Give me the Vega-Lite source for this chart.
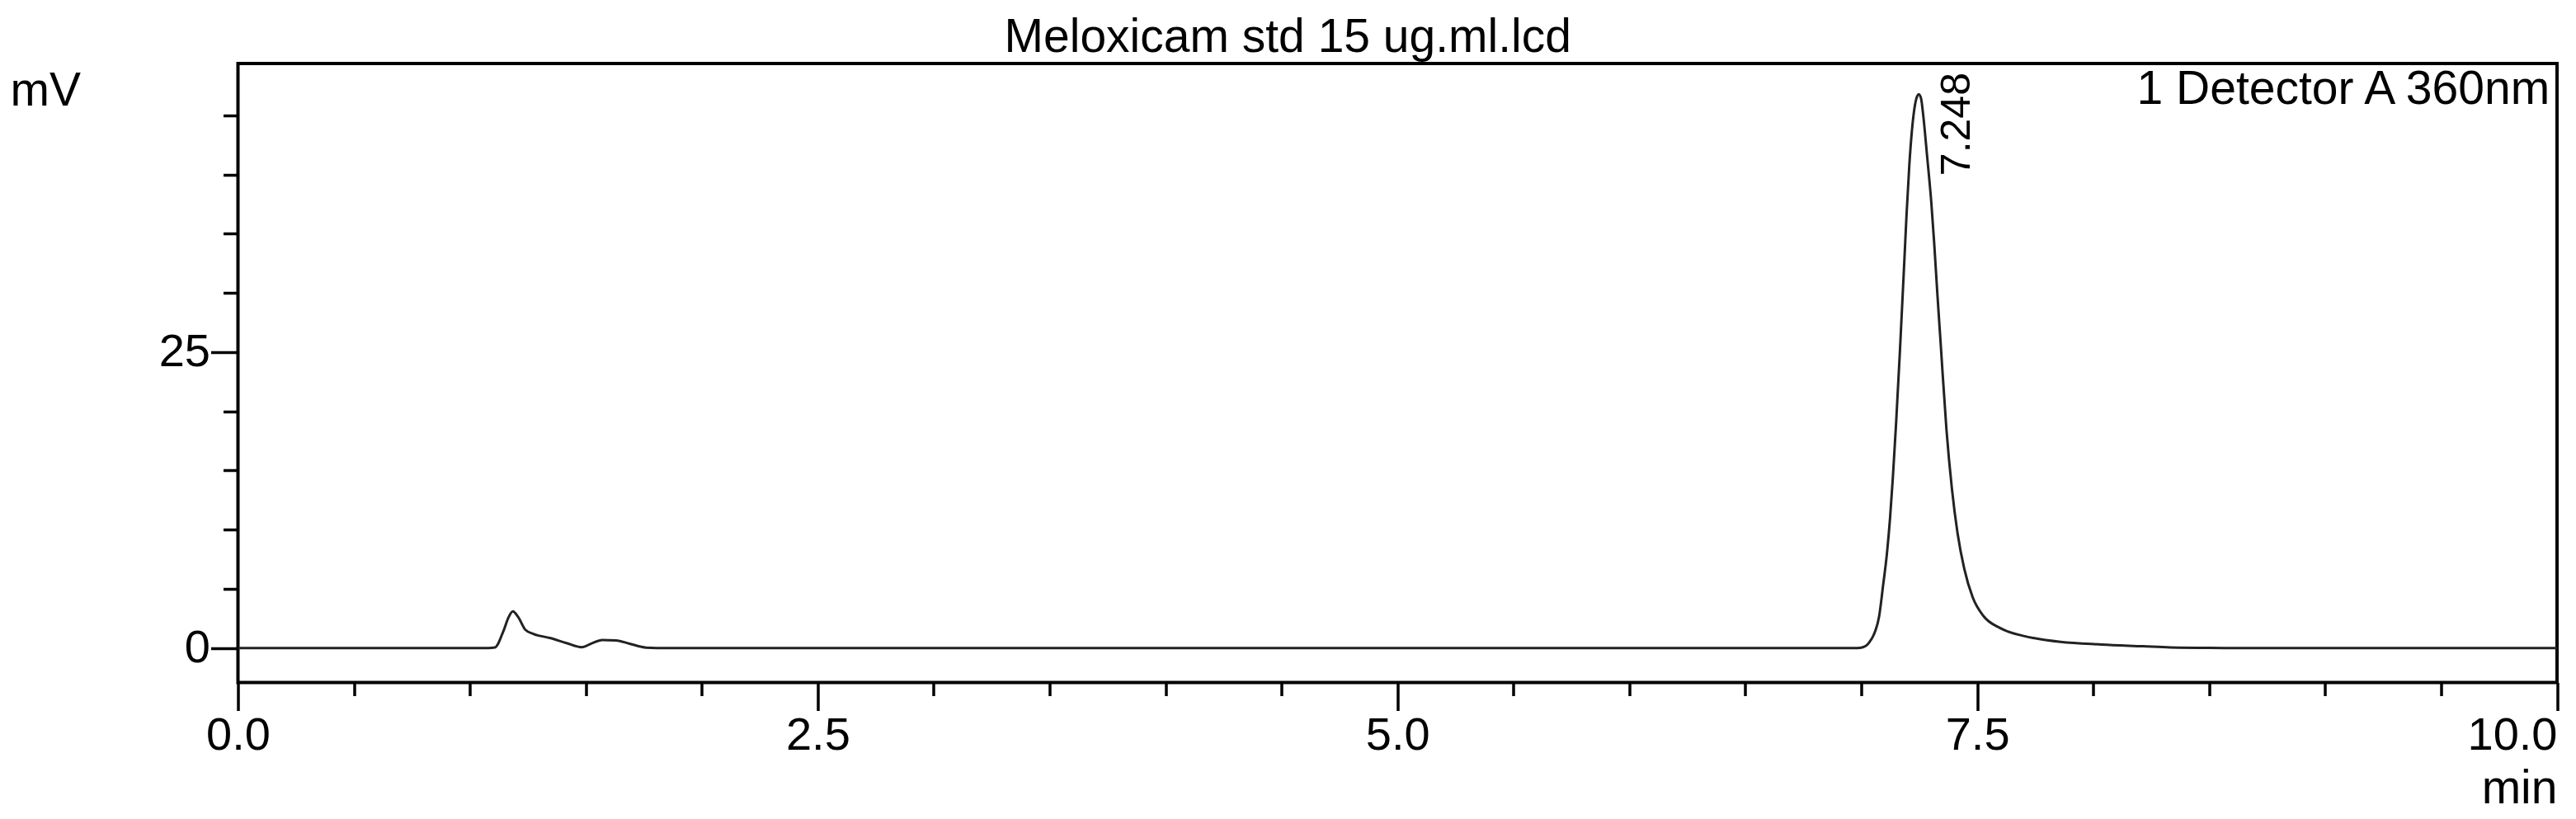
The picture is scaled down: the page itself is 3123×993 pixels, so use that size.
{
  "$schema": "https://vega.github.io/schema/vega-lite/v6.json",
  "autosize": {"type": "none"},
  "padding": {"left": 288.5, "top": 77, "right": 23, "bottom": 165.5},
  "width": 2811.5,
  "height": 750.5,
  "background": "white",
  "title": {
    "text": "Meloxicam std 15 ug.ml.lcd",
    "frame": "group",
    "anchor": "middle",
    "dx": -133,
    "dy": 55,
    "baseline": "alphabetic",
    "offset": 12,
    "font": "Liberation Sans",
    "fontSize": 57,
    "fontWeight": "normal",
    "color": "black"
  },
  "config": {
    "view": {"stroke": "black", "strokeWidth": 4},
    "axis": {
      "grid": false,
      "domain": false,
      "tickColor": "black",
      "tickWidth": 3.5,
      "labelColor": "black",
      "labelFont": "Liberation Sans",
      "labelFontSize": 56,
      "titleFont": "Liberation Sans",
      "titleFontSize": 57,
      "titleFontWeight": "normal",
      "titleColor": "black"
    },
    "legend": {
      "orient": "top-right",
      "offset": 3,
      "padding": 0,
      "title": null,
      "symbolSize": 0,
      "symbolStrokeWidth": 0,
      "symbolOpacity": 0,
      "labelOffset": 0,
      "labelFont": "Liberation Sans",
      "labelFontSize": 57,
      "labelColor": "black",
      "labelLimit": 2000
    }
  },
  "datasets": {
    "trace": [
      {"t": 0.0, "mV": 0.0},
      {"t": 0.4, "mV": 0.0},
      {"t": 0.8, "mV": 0.0},
      {"t": 1.0, "mV": 0.0},
      {"t": 1.08, "mV": 0.0},
      {"t": 1.108, "mV": 0.05},
      {"t": 1.144, "mV": 1.4},
      {"t": 1.167, "mV": 2.6},
      {"t": 1.185, "mV": 3.1},
      {"t": 1.209, "mV": 2.6},
      {"t": 1.239, "mV": 1.55},
      {"t": 1.274, "mV": 1.2},
      {"t": 1.345, "mV": 0.85},
      {"t": 1.417, "mV": 0.42},
      {"t": 1.482, "mV": 0.07},
      {"t": 1.523, "mV": 0.37},
      {"t": 1.571, "mV": 0.68},
      {"t": 1.63, "mV": 0.65},
      {"t": 1.689, "mV": 0.37},
      {"t": 1.76, "mV": 0.04},
      {"t": 1.85, "mV": 0.0},
      {"t": 2.0, "mV": 0.0},
      {"t": 3.0, "mV": 0.0},
      {"t": 4.0, "mV": 0.0},
      {"t": 5.0, "mV": 0.0},
      {"t": 6.0, "mV": 0.0},
      {"t": 6.6, "mV": 0.0},
      {"t": 6.9, "mV": 0.0},
      {"t": 6.97, "mV": 0.0},
      {"t": 6.995, "mV": 0.02},
      {"t": 7.017, "mV": 0.15},
      {"t": 7.035, "mV": 0.5},
      {"t": 7.053, "mV": 1.1},
      {"t": 7.077, "mV": 2.7},
      {"t": 7.094, "mV": 5.3},
      {"t": 7.11, "mV": 7.9},
      {"t": 7.124, "mV": 11.0},
      {"t": 7.136, "mV": 14.4},
      {"t": 7.15, "mV": 19.0},
      {"t": 7.166, "mV": 24.9},
      {"t": 7.174, "mV": 28.1},
      {"t": 7.186, "mV": 32.9},
      {"t": 7.195, "mV": 36.6},
      {"t": 7.207, "mV": 40.8},
      {"t": 7.225, "mV": 45.0},
      {"t": 7.237, "mV": 46.4},
      {"t": 7.248, "mV": 46.8},
      {"t": 7.258, "mV": 46.4},
      {"t": 7.266, "mV": 45.2},
      {"t": 7.284, "mV": 41.5},
      {"t": 7.302, "mV": 37.6},
      {"t": 7.314, "mV": 34.3},
      {"t": 7.328, "mV": 29.9},
      {"t": 7.342, "mV": 25.8},
      {"t": 7.367, "mV": 18.5},
      {"t": 7.391, "mV": 13.4},
      {"t": 7.415, "mV": 9.7},
      {"t": 7.444, "mV": 6.7},
      {"t": 7.48, "mV": 4.3},
      {"t": 7.527, "mV": 2.7},
      {"t": 7.598, "mV": 1.7},
      {"t": 7.705, "mV": 1.0},
      {"t": 7.742, "mV": 0.85},
      {"t": 7.859, "mV": 0.52},
      {"t": 8.037, "mV": 0.3},
      {"t": 8.215, "mV": 0.15},
      {"t": 8.332, "mV": 0.05},
      {"t": 8.5, "mV": 0.01},
      {"t": 8.7, "mV": 0.0},
      {"t": 9.0, "mV": 0.0},
      {"t": 9.5, "mV": 0.0},
      {"t": 10.0, "mV": 0.0}
    ],
    "peaks": [
      {"t": 7.248, "mV": 46.8, "label": "7.248"}
    ]
  },
  "layer": [
    {
      "data": {"name": "trace"},
      "mark": {"type": "line", "interpolate": "monotone", "strokeWidth": 3, "clip": true},
      "encoding": {
        "x": {
          "field": "t", "type": "quantitative",
          "scale": {"domain": [0, 10], "nice": false, "zero": false},
          "axis": {
            "orient": "bottom",
            "values": [0, 2.5, 5, 7.5, 10],
            "format": ".1f",
            "tickSize": 34,
            "labelPadding": 3,
            "labelAlign": {"condition": {"test": "datum.value === 10", "value": "right"}, "value": "center"},
            "labelFlush": false,
            "labelOverlap": false,
            "title": "min",
            "titleX": 2811.5,
            "titleY": 145.5,
            "titleAlign": "right",
            "titleAnchor": null,
            "titleBaseline": "alphabetic"
          }
        },
        "y": {
          "field": "mV", "type": "quantitative",
          "scale": {"domain": [-2.91, 49.39], "nice": false, "zero": false},
          "axis": {
            "orient": "left",
            "values": [0, 25],
            "tickSize": 33,
            "labelPadding": 1,
            "labelOverlap": false,
            "title": "mV",
            "titleAngle": 0,
            "titleX": -276.5,
            "titleY": 50,
            "titleAlign": "left",
            "titleAnchor": null,
            "titleBaseline": "alphabetic"
          }
        },
        "color": {
          "datum": "1 Detector A 360nm",
          "type": "nominal",
          "scale": {"range": ["#222222"]},
          "legend": {}
        }
      }
    },
    {
      "data": {"name": "peaks"},
      "mark": {
        "type": "text",
        "angle": 270,
        "align": "left",
        "baseline": "alphabetic",
        "dx": -99,
        "dy": 62,
        "font": "Liberation Sans",
        "fontSize": 50,
        "color": "black"
      },
      "encoding": {
        "x": {
          "field": "t", "type": "quantitative",
          "scale": {"domain": [0, 10], "nice": false, "zero": false},
          "axis": {
            "orient": "bottom",
            "values": [0.5, 1, 1.5, 2, 3, 3.5, 4, 4.5, 5.5, 6, 6.5, 7, 8, 8.5, 9, 9.5],
            "tickSize": 16,
            "labels": false,
            "title": null
          }
        },
        "y": {
          "field": "mV", "type": "quantitative",
          "scale": {"domain": [-2.91, 49.39], "nice": false, "zero": false},
          "axis": {
            "orient": "left",
            "values": [5, 10, 15, 20, 30, 35, 40, 45],
            "tickSize": 18,
            "labels": false,
            "title": null
          }
        },
        "text": {"field": "label"}
      }
    }
  ],
  "resolve": {"axis": {"x": "independent", "y": "independent"}}
}
